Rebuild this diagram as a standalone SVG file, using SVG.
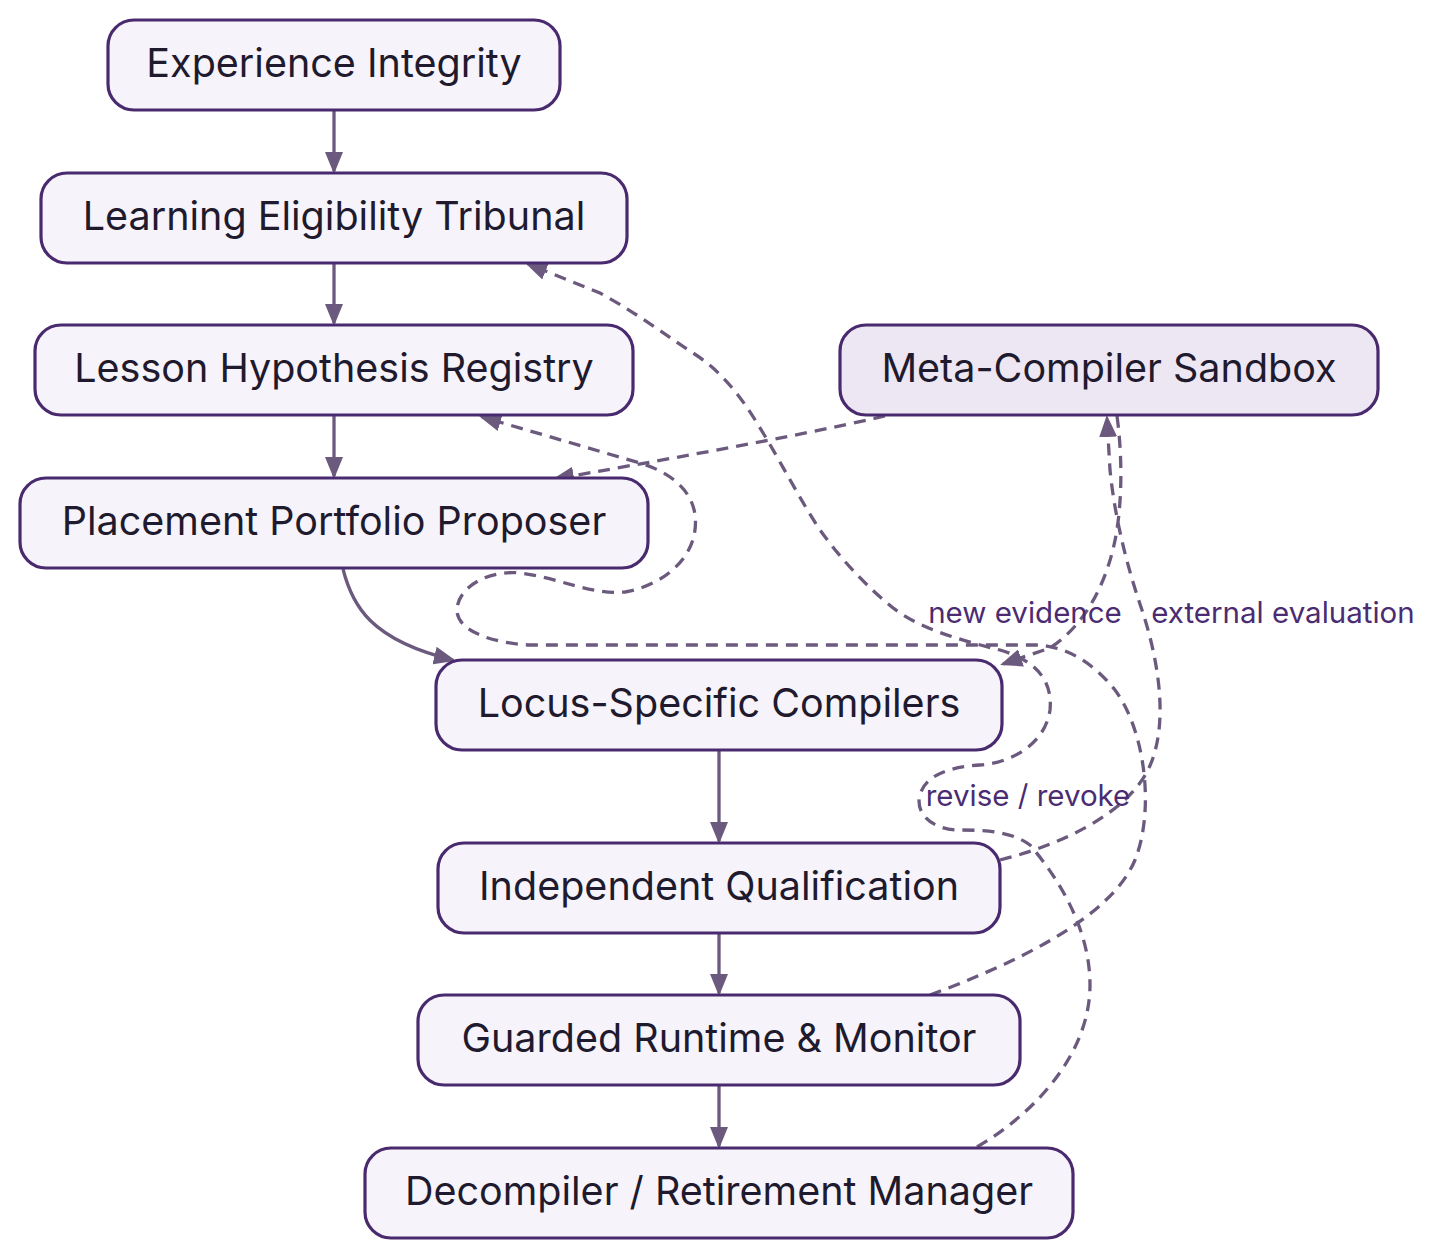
<svg xmlns="http://www.w3.org/2000/svg" width="1438" height="1259" viewBox="0 0 1438 1259">
<style>
.node rect{fill:#f6f4fa;stroke:#4a2a6e;stroke-width:3.2}
.node.alt rect{fill:#ede7f3}
.node text{font-family:Inter,"Noto Sans","Liberation Sans",sans-serif;font-size:39.5px;fill:#1f1a2e;text-anchor:middle;dominant-baseline:central}
.edge{fill:none;stroke:#6b5a7e;stroke-width:3.3}
.dash{stroke-dasharray:12,8}
.lbl{font-family:Inter,"Noto Sans","Liberation Sans",sans-serif;font-size:29.5px;fill:#4b2c72;text-anchor:middle;dominant-baseline:central}
</style>
<defs>
<marker id="arr" viewBox="0 0 22 18" refX="19" refY="9" markerWidth="22" markerHeight="18" markerUnits="userSpaceOnUse" orient="auto">
<path d="M0,0 L22,9 L0,18 Z" fill="#6b5a7e"/>
</marker>
</defs>
<g id="connectors">
<path class="edge" d="M334,110 L334,171" marker-end="url(#arr)"/>
<path class="edge" d="M334,263 L334,323" marker-end="url(#arr)"/>
<path class="edge" d="M334,415 L334,476" marker-end="url(#arr)"/>
<path class="edge" d="M343,569 C352,605 370,640 453,660" marker-end="url(#arr)"/>
<path class="edge" d="M719,750 L719,841" marker-end="url(#arr)"/>
<path class="edge" d="M719,933 L719,993" marker-end="url(#arr)"/>
<path class="edge" d="M719,1085 L719,1146" marker-end="url(#arr)"/>
<path class="edge dash" d="M885,416 C780,440 650,462 555,479" marker-end="url(#arr)"/>
<path class="edge dash" d="M1000,860 C1060,845 1125,815 1148,770 C1170,725 1158,660 1143,613 C1128,570 1115,520 1110,470 L1107,418" marker-end="url(#arr)"/>
<path class="edge dash" d="M1117,416 C1123,460 1122,510 1114,545 C1105,585 1085,625 1050,648 L1003,664" marker-end="url(#arr)"/>
<path class="edge dash" d="M930,995 C1010,965 1110,920 1135,860 C1155,810 1145,730 1115,690 C1095,665 1070,648 1040,645 L530,645 C490,643 455,630 457,608 C460,585 490,570 520,573 C560,578 590,595 625,592 C665,585 700,555 695,515 C692,490 670,472 640,463 L482,417" marker-end="url(#arr)"/>
<path class="edge dash" d="M977,1147 C1040,1110 1090,1050 1090,985 C1090,930 1060,880 1030,845 C1010,830 980,830 955,830 C930,828 915,812 920,795 C925,775 950,767 980,765 C1010,763 1045,745 1050,710 C1053,680 1035,660 1000,650 C960,640 915,628 887,603 C860,580 838,555 820,530 C800,500 780,460 757,423 C740,395 720,370 693,353 C665,335 640,315 600,293 L528,264" marker-end="url(#arr)"/>
<text class="lbl" x="1025" y="612">new evidence</text>
<text class="lbl" x="1283" y="612">external evaluation</text>
<text class="lbl" x="1028" y="795">revise / revoke</text>
</g>
<g id="n1" class="node"><rect x="108" y="20" width="452" height="90" rx="26"/><text x="334" y="63">Experience Integrity</text></g>
<g id="n2" class="node"><rect x="41" y="173" width="586" height="90" rx="26"/><text x="334" y="216">Learning Eligibility Tribunal</text></g>
<g id="n3" class="node"><rect x="35" y="325" width="598" height="90" rx="26"/><text x="334" y="368">Lesson Hypothesis Registry</text></g>
<g id="n4" class="node"><rect x="20" y="478" width="628" height="90" rx="26"/><text x="334" y="521">Placement Portfolio Proposer</text></g>
<g id="n5" class="node alt"><rect x="840" y="325" width="538" height="90" rx="26"/><text x="1109" y="368">Meta-Compiler Sandbox</text></g>
<g id="n6" class="node"><rect x="436" y="660" width="566" height="90" rx="26"/><text x="719" y="703">Locus-Specific Compilers</text></g>
<g id="n7" class="node"><rect x="438" y="843" width="562" height="90" rx="26"/><text x="719" y="886">Independent Qualification</text></g>
<g id="n8" class="node"><rect x="418" y="995" width="602" height="90" rx="26"/><text x="719" y="1038">Guarded Runtime &amp; Monitor</text></g>
<g id="n9" class="node"><rect x="365" y="1148" width="708" height="90" rx="26"/><text x="719" y="1191">Decompiler / Retirement Manager</text></g>
</svg>
